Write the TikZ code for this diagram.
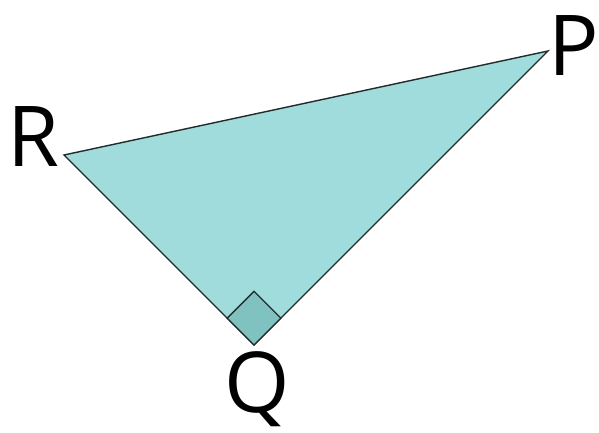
\documentclass[tikz,border=0pt]{standalone}
\usepackage{fontspec}
\setmainfont{Open Sans}
\usepackage{tikz}
\usetikzlibrary{calc}
\definecolor{TriFill}{RGB}{160, 220, 220}
\definecolor{AngFill}{RGB}{128, 194, 192}
\definecolor{EdgeGray}{RGB}{35, 42, 42}

\begin{document}
\begin{tikzpicture}[
    x=1pt, y=-1pt,
    vertex/.style={inner sep=0pt, font=\fontsize{84}{84}\selectfont},
    tri/.style={fill=TriFill, draw=EdgeGray, line width=1.4pt, line join=miter},
    rightang/.style={fill=AngFill, draw=EdgeGray, line width=1.4pt}
]
\useasboundingbox (0,0) rectangle (599,433);

% Corners
\coordinate (r) at (64,155);
\coordinate (p) at (548,51);
\coordinate (q) at (254,345);

% Triangle
\draw[tri] (r) -- (p) -- (q) -- cycle;

% Right angle mark
\coordinate (qa) at ($(q)!38pt!(r)$);
\coordinate (qb) at ($(q)!38pt!(p)$);
\draw[rightang] (q) -- (qa) -- ($(qa)+(qb)-(q)$) -- (qb) -- cycle;

% Labels
\node[vertex, anchor=base west] (lr) at (7,166) {R};
\node[vertex, anchor=base west] (lp) at (548,76) {P};
\node[vertex, anchor=base] (lq) at (257,412) {Q};

\end{tikzpicture}
\end{document}
